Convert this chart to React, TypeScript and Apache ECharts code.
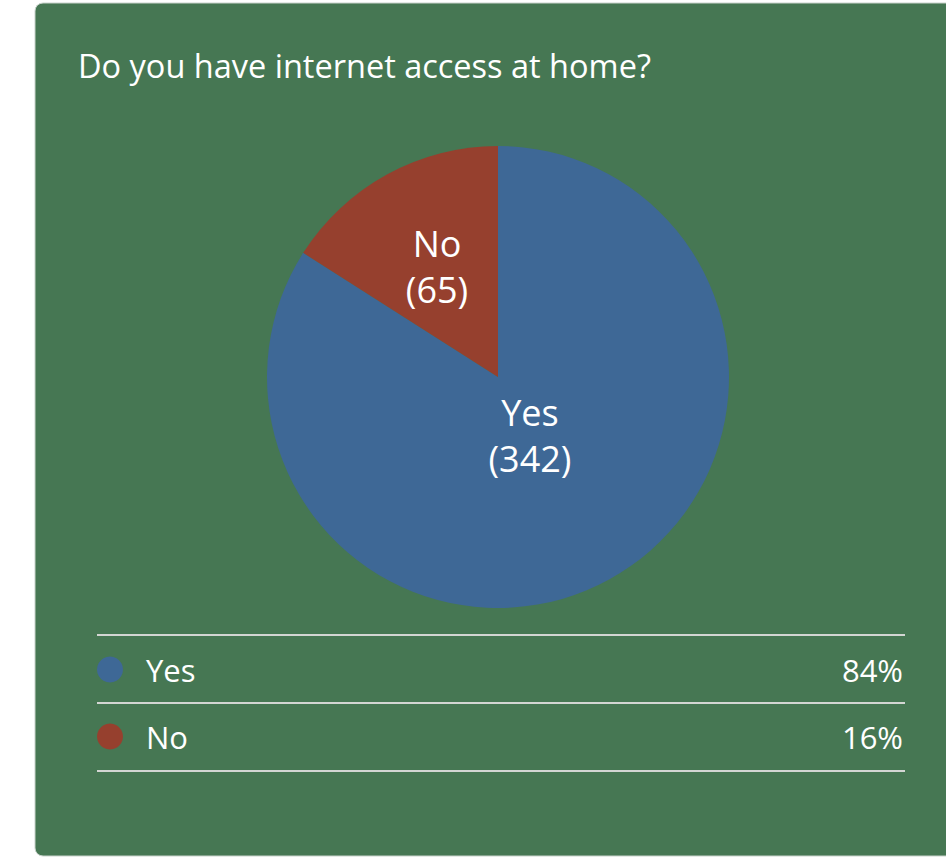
import React, { useEffect, useRef } from "react";
import * as echarts from "echarts";

const titleText = "Do you have internet access at home?";
const categories = ["Yes", "No"];
const values = [342, 65];
const colors = ["#3e6896", "#96402e"];

const total = values.reduce((a, b) => a + b, 0);
const pct = (v: number) => Math.round((v / total) * 100);

export default function App() {
  const ref = useRef<HTMLDivElement>(null);
  useEffect(() => {
    if (!ref.current) return;
    const chart = echarts.init(ref.current, null, { renderer: "svg" });
    const font = "'Open Sans', 'Noto Sans', sans-serif";
    const lineYs = [635, 703, 771];
    chart.setOption({
      animation: false,
      backgroundColor: "#ffffff",
      graphic: [
        {
          type: "rect",
          z: -10,
          shape: { x: 35, y: 3, width: 940, height: 853, r: 8 },
          style: { fill: "#467753", stroke: "#c9d3cc", lineWidth: 1 },
          silent: true,
        },
        ...lineYs.map((y) => ({
          type: "line",
          shape: { x1: 97, y1: y, x2: 905, y2: y },
          style: { stroke: "#d3d6d3", lineWidth: 2 },
          silent: true,
        })),
      ],
      title: {
        text: titleText,
        left: 73,
        top: 44,
        textStyle: { color: "#ffffff", fontSize: 32.5, fontWeight: "normal", fontFamily: font },
      },
      legend: {
        orient: "vertical",
        left: 92,
        top: 649,
        itemWidth: 26,
        itemHeight: 26,
        itemGap: 36,
        icon: "circle",
        data: categories,
        formatter: (name: string) => {
          const i = categories.indexOf(name);
          return `{n|${name}}{p|${pct(values[i])}%}`;
        },
        textStyle: {
          color: "#ffffff",
          fontSize: 31,
          lineHeight: 26,
          fontFamily: font,
          rich: {
            n: { color: "#ffffff", fontSize: 31, lineHeight: 26, fontFamily: font, padding: [0, 0, 0, 18], width: 600 },
            p: { color: "#ffffff", fontSize: 31, lineHeight: 26, fontFamily: font, width: 157, align: "right" },
          },
        },
      },
      series: [
        {
          type: "pie",
          center: [498, 377],
          radius: 231,
          startAngle: 90,
          clockwise: true,
          data: categories.map((c, i) => ({ name: c, value: values[i], itemStyle: { color: colors[i] } })),
          label: {
            show: true,
            position: "inside",
            formatter: "{b}\n({c})",
            color: "#ffffff",
            fontSize: 36,
            lineHeight: 46,
            fontFamily: font,
          },
          labelLine: { show: false },
          labelLayout: (params: any) =>
            params.dataIndex === 0 ? { dx: -25, dy: -45 } : { dx: -4, dy: -7 },
          emphasis: { disabled: true },
        },
      ],
    });
    return () => chart.dispose();
  }, []);
  return (
    <div
      ref={ref}
      style={{ position: "fixed", left: 0, top: 0, width: 946, height: 863 }}
    />
  );
}
